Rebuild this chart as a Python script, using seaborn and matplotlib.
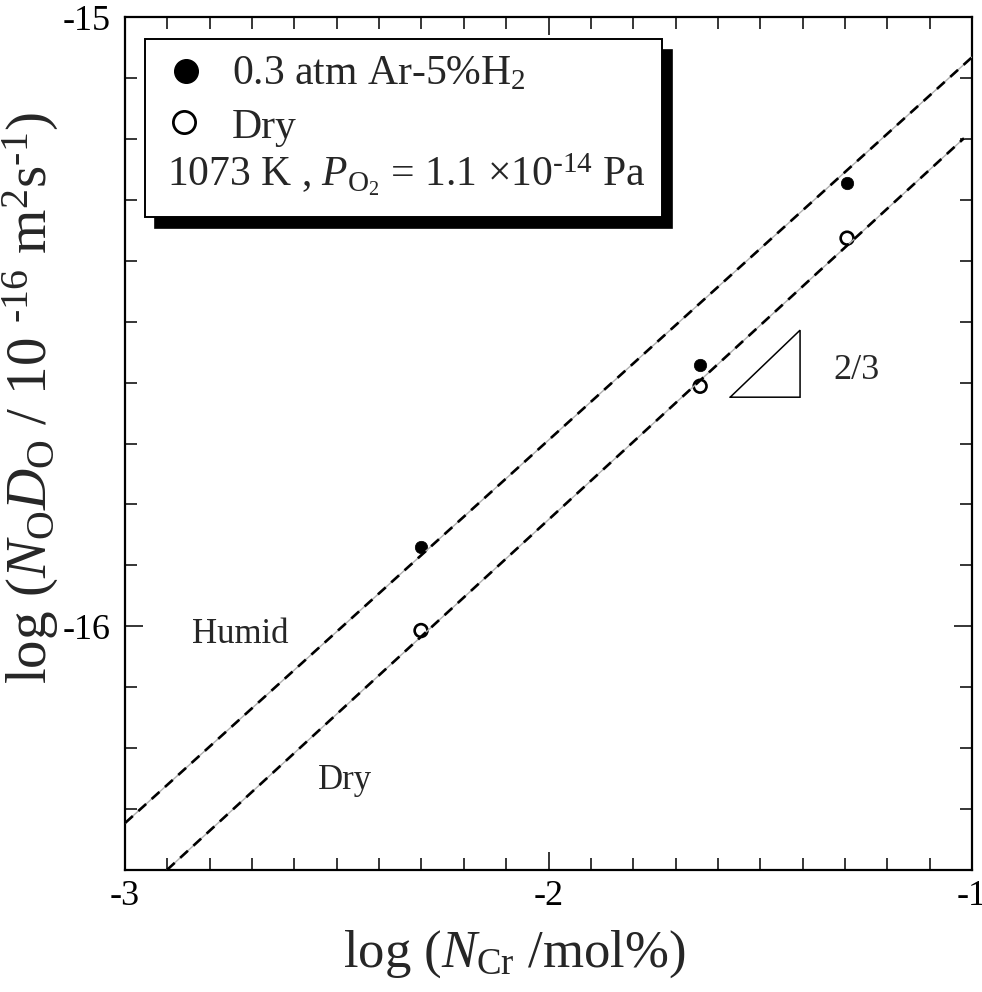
import matplotlib
matplotlib.use("Agg")
import matplotlib.pyplot as plt
from matplotlib.patches import Rectangle
from matplotlib.ticker import MultipleLocator
import seaborn as sns
import pandas as pd

# log of Cr content (mol%) for the three alloys
log_n_cr = [-2.301, -1.642, -1.295]
# log(N_O D_O) measured in Ar-5%H2 (humid) and dry atmospheres
humid_vals = [-15.870, -15.571, -15.273]
dry_vals = [-16.007, -15.606, -15.363]

# fitted lines (end points on the chart)
humid_fit_x = [-3.0, -1.0]
humid_fit_y = [-16.323, -15.066]
dry_fit_x = [-2.901, -1.019]
dry_fit_y = [-16.40, -15.199]

# slope indicator
slope_num, slope_den = 2, 3
slope_x0, slope_y0, slope_run = -1.571, -15.624, 0.165

x_ticks = [-3, -2, -1]
y_ticks = [-16, -15]

sns.set_theme(style="ticks")
plt.rcParams["font.family"] = ["Liberation Serif", "DejaVu Serif"]
plt.rcParams["mathtext.fontset"] = "custom"
plt.rcParams["mathtext.rm"] = "Liberation Serif"
plt.rcParams["mathtext.it"] = "Liberation Serif:italic"
plt.rcParams["axes.unicode_minus"] = False

fig = plt.figure(figsize=(9.82, 9.92), dpi=100)
ax = fig.add_axes([125 / 982, 1 - 870 / 992, 847 / 982, 853 / 992])

pts = pd.DataFrame({"x": log_n_cr, "humid": humid_vals, "dry": dry_vals})

sns.scatterplot(data=pts, x="x", y="humid", ax=ax, s=80, color="black",
                edgecolor="black", linewidth=0.5, zorder=3)
sns.scatterplot(data=pts, x="x", y="dry", ax=ax, s=85, facecolor="none",
                edgecolor="black", linewidth=1.9, zorder=3)

for fx, fy in ((humid_fit_x, humid_fit_y), (dry_fit_x, dry_fit_y)):
    line = pd.DataFrame({"x": fx, "y": fy})
    sns.lineplot(data=line, x="x", y="y", ax=ax, color="#b0b0b0", lw=1.0,
                 zorder=4, sort=False)
    sns.lineplot(data=line, x="x", y="y", ax=ax, color="black", lw=1.9,
                 linestyle=(0, (4.0, 2.8)), zorder=5, sort=False)

# slope triangle
rise = slope_run * slope_num / slope_den
tri_x = [slope_x0, slope_x0 + slope_run, slope_x0 + slope_run, slope_x0]
tri_y = [slope_y0, slope_y0, slope_y0 + rise, slope_y0]
ax.plot(tri_x, tri_y, color="black", lw=1.1, solid_joinstyle="miter")
ax.text(-1.328, -15.580, f"{slope_num}/{slope_den}", fontsize=26,
        ha="left", va="center")

ax.text(-2.842, -16.013, "Humid", fontsize=25, ha="left", va="center")
ax.text(-2.544, -16.253, "Dry", fontsize=25, ha="left", va="center")

ax.set_xlim(-3, -1)
ax.set_ylim(-16.4, -15)
ax.xaxis.set_major_locator(MultipleLocator(1))
ax.xaxis.set_minor_locator(MultipleLocator(0.1))
ax.yaxis.set_major_locator(MultipleLocator(1))
ax.yaxis.set_minor_locator(MultipleLocator(0.1))
ax.set_xticks(x_ticks)
ax.set_yticks(y_ticks)
ax.set_xticklabels([str(v) for v in x_ticks])
ax.set_yticklabels([str(v) for v in y_ticks])
ax.tick_params(which="both", direction="in", top=True, right=True,
               width=1.1, colors="black")
ax.tick_params(which="major", length=13, labelsize=26)
ax.tick_params(axis="x", which="major", pad=7)
ax.tick_params(axis="y", which="major", pad=10)
ax.tick_params(which="minor", length=8.5)
for sp in ax.spines.values():
    sp.set_linewidth(1.6)
    sp.set_color("black")

ax.set_xlabel(r"log ($N_{\mathrm{Cr}}$ /mol%)", fontsize=38)
ax.set_ylabel(r"log ($N_{\mathrm{O}}D_{\mathrm{O}}$ / 10 $^{\text{-16}}$ m$^{2}$s$^{\text{-1}}$)",
              fontsize=41)
ax.xaxis.set_label_coords(0.46, -0.068)
ax.yaxis.set_label_coords(-0.075, 0.553)

# legend box with solid drop shadow
bx, by, bw, bh = 0.0236, 0.7655, 0.6104, 0.2087
ax.add_patch(Rectangle((bx + 0.0118, by - 0.0129), bw, bh, transform=ax.transAxes,
                       facecolor="black", edgecolor="black", lw=1.2, zorder=8,
                       clip_on=False))
ax.add_patch(Rectangle((bx, by), bw, bh, transform=ax.transAxes,
                       facecolor="white", edgecolor="black", lw=1.4, zorder=9,
                       clip_on=False))
ax.plot([0.0718], [0.9369], transform=ax.transAxes, marker="o", ms=17,
        color="black", zorder=10, clip_on=False)
ax.plot([0.0697], [0.8773], transform=ax.transAxes, marker="o", ms=16,
        mfc="white", mec="black", mew=2.0, zorder=10, clip_on=False)
ax.text(0.126, 0.9215, r"0.3 atm Ar-5%H$_{2}$", transform=ax.transAxes,
        fontsize=30, va="baseline", ha="left", zorder=11)
ax.text(0.126, 0.8578, "Dry", transform=ax.transAxes,
        fontsize=30, va="baseline", ha="left", zorder=11)
ax.text(0.0492, 0.8011,
        r"1073 K , $P_{\mathrm{O}_{2}}$ = 1.1 $\times$10$^{\text{-14}}$ Pa",
        transform=ax.transAxes, fontsize=30, va="baseline", ha="left",
        zorder=11)

fig.savefig("out.png", dpi=100)
